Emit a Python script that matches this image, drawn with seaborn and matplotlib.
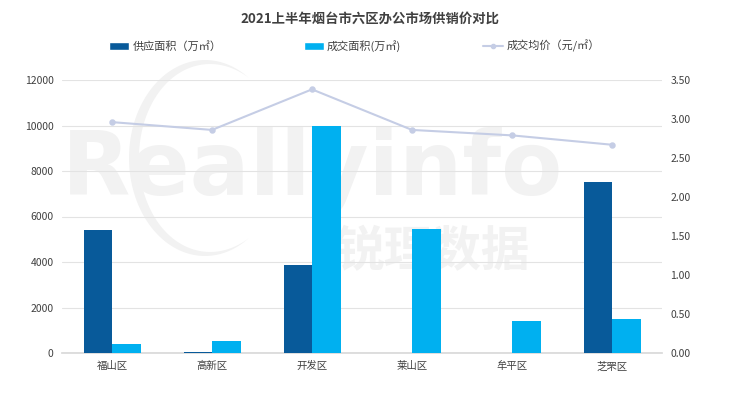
import matplotlib
matplotlib.use("Agg")
import matplotlib.pyplot as plt
import seaborn as sns
import pandas as pd
import numpy as np
from matplotlib.patches import Patch, Polygon
from matplotlib.lines import Line2D

districts = ["福山区", "高新区", "开发区", "莱山区", "牟平区", "芝罘区"]
supply = [5400, 40, 3880, 0, 0, 7530]
deal = [400, 510, 10000, 5440, 1400, 1510]
price = [2.96, 2.86, 3.38, 2.86, 2.79, 2.67]
left_ticks = [0, 2000, 4000, 6000, 8000, 10000, 12000]
right_ticks = [0.0, 0.5, 1.0, 1.5, 2.0, 2.5, 3.0, 3.5]
series_names = ["供应面积（万㎡）", "成交面积(万㎡)", "成交均价（元/㎡）"]
title = "2021上半年烟台市六区办公市场供销价对比"

c_supply = "#085A9A"
c_deal = "#00B0F0"
c_line = "#C5CDE5"
txt = "#404040"

sns.set_theme(style="white")
plt.rcParams["font.family"] = ["Noto Sans CJK SC", "DejaVu Sans"]

df = pd.DataFrame({
    "区": districts * 2,
    "面积": supply + deal,
    "类型": [series_names[0]] * 6 + [series_names[1]] * 6,
})

W, H = 740, 394
fig = plt.figure(figsize=(7.4, 3.94), dpi=100)
ax = fig.add_axes([62 / W, 41 / H, 600 / W, 273 / H])
ax.set_facecolor("none")

# watermark (decorative)
wm = "#F2F2F2"
ax.text(0.0, 0.67, "Reallyinfo", transform=ax.transAxes, fontsize=64, fontweight="bold",
        color=wm, family="DejaVu Sans", va="center", ha="left", zorder=0)
ax.text(0.455, 0.37, "锐理数据", transform=ax.transAxes, fontsize=35, fontweight="bold",
        color=wm, va="center", ha="left", zorder=0)
t = np.radians(np.linspace(55, 305, 120))
cx, cy, rx, ry, wmax = 205, 158, 76, 98, 10
wt = wmax * np.sin(np.pi * (t - t[0]) / (t[-1] - t[0]))
ox, oy = cx + rx * np.cos(t), cy - ry * np.sin(t)
ix, iy = cx + (rx - wt) * np.cos(t), cy - (ry - wt) * np.sin(t)
px = np.concatenate([ox, ix[::-1]]) / W
py = 1 - np.concatenate([oy, iy[::-1]]) / H
crescent = Polygon(np.column_stack([px, py]), closed=True, facecolor=wm, edgecolor="none",
                   transform=fig.transFigure, zorder=0, clip_on=False)
ax.add_patch(crescent)

sns.barplot(data=df, x="区", y="面积", hue="类型", palette=[c_supply, c_deal],
            width=0.57, ax=ax, legend=False, zorder=3, saturation=1, linewidth=0)

ax.set_ylim(0, 12000)
ax.set_yticks(left_ticks)
ax.set_yticklabels([str(v) for v in left_ticks], fontsize=7.5, color=txt)
ax.set_xlim(-0.5, 5.5)
ax.set_xlabel("")
ax.set_ylabel("")
ax.tick_params(axis="x", length=0, labelsize=7.5, labelcolor=txt, pad=6)
ax.tick_params(axis="y", length=0, pad=6)
ax.set_xticks([i - 0.5 for i in range(7)], minor=True)
ax.tick_params(axis="x", which="minor", length=4, color="#D9D9D9", width=0.8)
ax.yaxis.grid(True, color="#E3E3E3", linewidth=0.8, zorder=1)
ax.set_axisbelow(True)
for s in ["top", "left", "right"]:
    ax.spines[s].set_visible(False)
ax.spines["bottom"].set_color("#D9D9D9")

ax2 = ax.twinx()
sns.pointplot(x=districts, y=price, ax=ax2, color=c_line, markers="o",
              markersize=3.5, linewidth=1.5, zorder=4)
ax2.set_ylim(0, 3.5)
ax2.set_yticks(right_ticks)
ax2.set_yticklabels([f"{v:.2f}" for v in right_ticks], fontsize=7.5, color=txt)
ax2.tick_params(axis="y", length=0, pad=6)
ax2.set_ylabel("")
ax2.set_xlim(-0.5, 5.5)
for s in ["top", "left", "right", "bottom"]:
    ax2.spines[s].set_visible(False)

fig.text(0.5, 1 - 19 / H, title, ha="center", va="center", fontsize=9.6,
         fontweight="bold", color=txt)

handles = [Patch(facecolor=c_supply), Patch(facecolor=c_deal),
           Line2D([0], [0], color=c_line, marker="o", markersize=3, linewidth=1.5)]
fig.legend(handles, series_names, loc="center left", bbox_to_anchor=(109 / W, 1 - 46 / H),
           ncol=3, frameon=False, fontsize=8, labelcolor=txt, columnspacing=7.4,
           handlelength=1.8, handleheight=0.7, handletextpad=0.3,
           borderpad=0, borderaxespad=0)

fig.savefig("out.png", dpi=100)
